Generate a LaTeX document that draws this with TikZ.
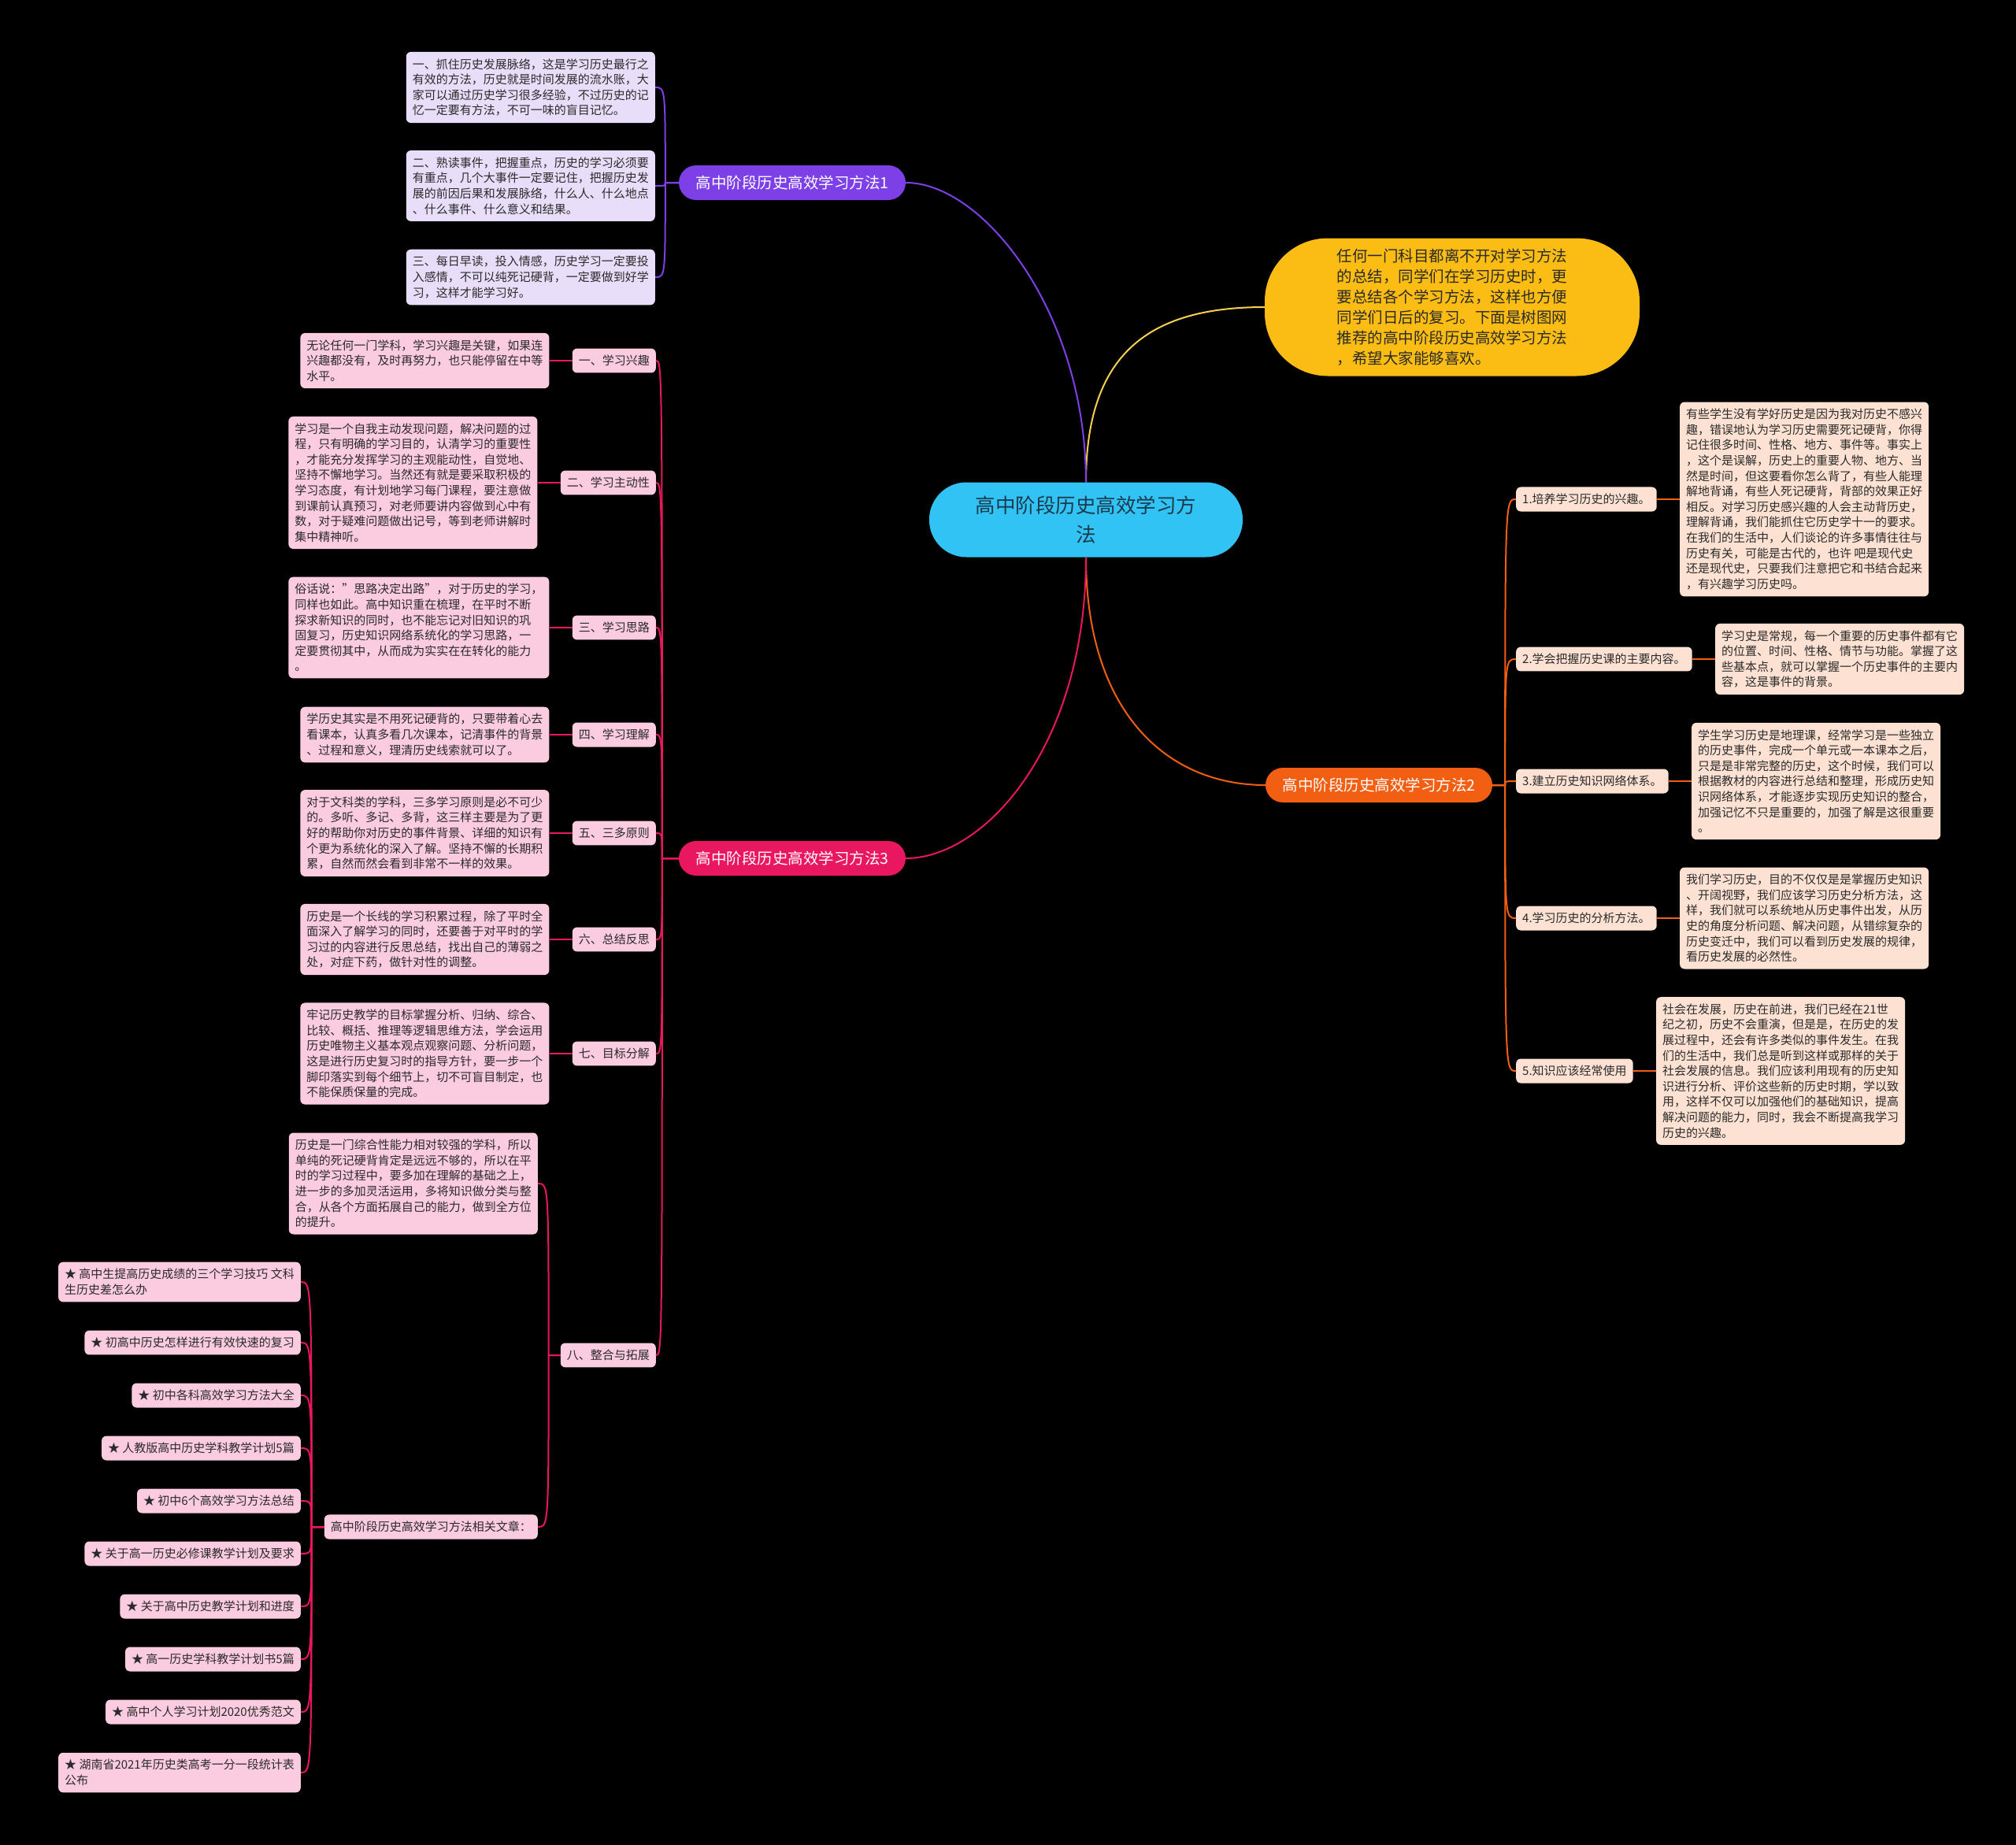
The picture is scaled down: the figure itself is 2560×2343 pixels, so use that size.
\documentclass[tikz,border=0pt]{standalone}
\usepackage{fontspec}
\setmainfont{Noto Sans CJK SC}
\usetikzlibrary{positioning}
\definecolor{rootcyan}{HTML}{31C3F3}
\definecolor{rootink}{HTML}{1C3A4E}
\definecolor{introyel}{HTML}{FBBC14}
\definecolor{introline}{HTML}{F6D050}
\definecolor{mpurple}{HTML}{7D40E6}
\definecolor{morange}{HTML}{F25E12}
\definecolor{mred}{HTML}{E8175F}
\definecolor{lavfill}{HTML}{E9DEF9}
\definecolor{peachfill}{HTML}{FDE2D3}
\definecolor{pinkfill}{HTML}{FBCBE0}
\definecolor{inkdark}{HTML}{2A2A2A}

\begin{document}
\begin{tikzpicture}[
    x=1pt, y=-1pt,
    every node/.style={font=\fontsize{15}{19.6}\selectfont},
    leaf/.style={rectangle, rounded corners=6pt, inner xsep=8pt, inner ysep=8.5pt,
                 align=left, text=inkdark},
    leaf1/.style={leaf, fill=lavfill},
    leaf2/.style={leaf, fill=peachfill},
    leaf3/.style={leaf, fill=pinkfill},
    mbranch/.style={rectangle, rounded corners=22pt, minimum width=288pt,
                    minimum height=44pt, text=white, font=\fontsize{19.5}{24}\selectfont},
    link/.style={line width=2pt},
]
% canvas
\fill[black] (0,0) rectangle (2560,2343);

% root and intro bubble
\node[fill=rootcyan, rounded corners=47pt, minimum width=398pt, minimum height=95pt,
      align=center, text=rootink, font=\fontsize{25.5}{37}\selectfont]
    (root) at (1379,660) {高中阶段历史高效学习方\\法};
\node[fill=introyel, rounded corners=80pt, minimum width=476pt, minimum height=175pt,
      align=left, text=inkdark, font=\fontsize{19.5}{26}\selectfont]
    (intro) at (1844,390)
    {任何一门科目都离不开对学习方法\\的总结，同学们在学习历史时，更\\要总结各个学习方法，这样也方便\\同学们日后的复习。下面是树图网\\推荐的高中阶段历史高效学习方法\\，希望大家能够喜欢。};

% three main branches
\node[mbranch, fill=mpurple] (m1) at (1006,232) {高中阶段历史高效学习方法1};
\node[mbranch, fill=morange] (m2) at (1751,997) {高中阶段历史高效学习方法2};
\node[mbranch, fill=mred] (m3) at (1006,1090) {高中阶段历史高效学习方法3};

\draw[link, introline] (root.north) .. controls +(0,-164) and +(-146,0) .. (intro.west);
\draw[link, mpurple] (root.north) .. controls +(0,-214) and +(99,0) .. (m1.east);
\draw[link, morange] (root.south) .. controls +(0,193) and +(-128,0) .. (m2.west);
\draw[link, mred] (root.south) .. controls +(0,240) and +(100,0) .. (m3.east);

% branch 1
\node[leaf1, anchor=east] (m1a) at (832,111)
    {一、抓住历史发展脉络，这是学习历史最行之\\有效的方法，历史就是时间发展的流水账，大\\家可以通过历史学习很多经验，不过历史的记\\忆一定要有方法，不可一味的盲目记忆。};
\node[leaf1, anchor=east] (m1b) at (832,236)
    {二、熟读事件，把握重点，历史的学习必须要\\有重点，几个大事件一定要记住，把握历史发\\展的前因后果和发展脉络，什么人、什么地点\\、什么事件、什么意义和结果。};
\node[leaf1, anchor=east] (m1c) at (832,352)
    {三、每日早读，投入情感，历史学习一定要投\\入感情，不可以纯死记硬背，一定要做到好学\\习，这样才能学习好。};
\coordinate (m1j) at ([xshift=-17pt]m1.west);
\foreach \c in {m1a,m1b,m1c}
    \draw[link, mpurple] (m1.west) -- (m1j) .. controls (m1j |- \c.east) .. (\c.east);

% branch 2
\node[leaf2, anchor=west] (m2l1) at (1925,634) {1.培养学习历史的兴趣。};
\node[leaf2, right=29pt of m2l1] (m2d1)
    {有些学生没有学好历史是因为我对历史不感兴\\趣，错误地认为学习历史需要死记硬背，你得\\记住很多时间、性格、地方、事件等。事实上\\，这个是误解，历史上的重要人物、地方、当\\然是时间，但这要看你怎么背了，有些人能理\\解地背诵，有些人死记硬背，背部的效果正好\\相反。对学习历史感兴趣的人会主动背历史，\\理解背诵，我们能抓住它历史学十一的要求。\\在我们的生活中，人们谈论的许多事情往往与\\历史有关，可能是古代的，也许 吧是现代史\\还是现代史，只要我们注意把它和书结合起来\\，有兴趣学习历史吗。};
\node[leaf2, anchor=west] (m2l2) at (1925,837) {2.学会把握历史课的主要内容。};
\node[leaf2, right=29pt of m2l2] (m2d2)
    {学习史是常规，每一个重要的历史事件都有它\\的位置、时间、性格、情节与功能。掌握了这\\些基本点，就可以掌握一个历史事件的主要内\\容，这是事件的背景。};
\node[leaf2, anchor=west] (m2l3) at (1925,992) {3.建立历史知识网络体系。};
\node[leaf2, right=29pt of m2l3] (m2d3)
    {学生学习历史是地理课，经常学习是一些独立\\的历史事件，完成一个单元或一本课本之后，\\只是是非常完整的历史，这个时候，我们可以\\根据教材的内容进行总结和整理，形成历史知\\识网络体系，才能逐步实现历史知识的整合，\\加强记忆不只是重要的，加强了解是这很重要\\。};
\node[leaf2, anchor=west] (m2l4) at (1925,1166) {4.学习历史的分析方法。};
\node[leaf2, right=29pt of m2l4] (m2d4)
    {我们学习历史，目的不仅仅是是掌握历史知识\\、开阔视野，我们应该学习历史分析方法，这\\样，我们就可以系统地从历史事件出发，从历\\史的角度分析问题、解决问题，从错综复杂的\\历史变迁中，我们可以看到历史发展的规律，\\看历史发展的必然性。};
\node[leaf2, anchor=west] (m2l5) at (1925,1360) {5.知识应该经常使用};
\node[leaf2, right=29pt of m2l5] (m2d5)
    {社会在发展，历史在前进，我们已经在21世\\纪之初，历史不会重演，但是是，在历史的发\\展过程中，还会有许多类似的事件发生。在我\\们的生活中，我们总是听到这样或那样的关于\\社会发展的信息。我们应该利用现有的历史知\\识进行分析、评价这些新的历史时期，学以致\\用，这样不仅可以加强他们的基础知识，提高\\解决问题的能力，同时，我会不断提高我学习\\历史的兴趣。};
\coordinate (m2j) at ([xshift=16pt]m2.east);
\foreach \i in {1,...,5} {
    \draw[link, morange] (m2.east) -- (m2j) .. controls (m2j |- m2l\i.west) .. (m2l\i.west);
    \draw[link, morange] (m2l\i.east) -- (m2d\i.west);
}

% branch 3
\node[leaf3, anchor=east] (m3l1) at (833,458) {一、学习兴趣};
\node[leaf3, left=29pt of m3l1] (m3d1)
    {无论任何一门学科，学习兴趣是关键，如果连\\兴趣都没有，及时再努力，也只能停留在中等\\水平。};
\node[leaf3, anchor=east] (m3l2) at (833,613) {二、学习主动性};
\node[leaf3, left=29pt of m3l2] (m3d2)
    {学习是一个自我主动发现问题，解决问题的过\\程，只有明确的学习目的，认清学习的重要性\\，才能充分发挥学习的主观能动性，自觉地、\\坚持不懈地学习。当然还有就是要采取积极的\\学习态度，有计划地学习每门课程，要注意做\\到课前认真预习，对老师要讲内容做到心中有\\数，对于疑难问题做出记号，等到老师讲解时\\集中精神听。};
\node[leaf3, anchor=east] (m3l3) at (833,797) {三、学习思路};
\node[leaf3, left=29pt of m3l3] (m3d3)
    {俗话说：\char34 思路决定出路\char34，对于历史的学习，\\同样也如此。高中知识重在梳理，在平时不断\\探求新知识的同时，也不能忘记对旧知识的巩\\固复习，历史知识网络系统化的学习思路，一\\定要贯彻其中，从而成为实实在在转化的能力\\。};
\node[leaf3, anchor=east] (m3l4) at (833,933) {四、学习理解};
\node[leaf3, left=29pt of m3l4] (m3d4)
    {学历史其实是不用死记硬背的，只要带着心去\\看课本，认真多看几次课本，记清事件的背景\\、过程和意义，理清历史线索就可以了。};
\node[leaf3, anchor=east] (m3l5) at (833,1058) {五、三多原则};
\node[leaf3, left=29pt of m3l5] (m3d5)
    {对于文科类的学科，三多学习原则是必不可少\\的。多听、多记、多背，这三样主要是为了更\\好的帮助你对历史的事件背景、详细的知识有\\个更为系统化的深入了解。坚持不懈的长期积\\累，自然而然会看到非常不一样的效果。};
\node[leaf3, anchor=east] (m3l6) at (833,1193) {六、总结反思};
\node[leaf3, left=29pt of m3l6] (m3d6)
    {历史是一个长线的学习积累过程，除了平时全\\面深入了解学习的同时，还要善于对平时的学\\习过的内容进行反思总结，找出自己的薄弱之\\处，对症下药，做针对性的调整。};
\node[leaf3, anchor=east] (m3l7) at (833,1338) {七、目标分解};
\node[leaf3, left=29pt of m3l7] (m3d7)
    {牢记历史教学的目标掌握分析、归纳、综合、\\比较、概括、推理等逻辑思维方法，学会运用\\历史唯物主义基本观点观察问题、分析问题，\\这是进行历史复习时的指导方针，要一步一个\\脚印落实到每个细节上，切不可盲目制定，也\\不能保质保量的完成。};
\node[leaf3, anchor=east] (m3l8) at (833,1721) {八、整合与拓展};
\node[leaf3, anchor=east] (m3d8) at (683,1503)
    {历史是一门综合性能力相对较强的学科，所以\\单纯的死记硬背肯定是远远不够的，所以在平\\时的学习过程中，要多加在理解的基础之上，\\进一步的多加灵活运用，多将知识做分类与整\\合，从各个方面拓展自己的能力，做到全方位\\的提升。};
\node[leaf3, anchor=east] (rel) at (683,1939) {高中阶段历史高效学习方法相关文章：};
\coordinate (m3j) at ([xshift=-21pt]m3.west);
\foreach \i in {1,...,8}
    \draw[link, mred] (m3.west) -- (m3j) .. controls (m3j |- m3l\i.east) .. (m3l\i.east);
\foreach \i in {1,...,7}
    \draw[link, mred] (m3l\i.west) -- (m3d\i.east);
\coordinate (m8j) at ([xshift=-15pt]m3l8.west);
\foreach \c in {m3d8,rel}
    \draw[link, mred] (m3l8.west) -- (m8j) .. controls (m8j |- \c.east) .. (\c.east);

% related articles
\node[leaf3, anchor=east] (s1) at (382,1628) {★ 高中生提高历史成绩的三个学习技巧 文科\\生历史差怎么办};
\node[leaf3, anchor=east] (s2) at (382,1705) {★ 初高中历史怎样进行有效快速的复习};
\node[leaf3, anchor=east] (s3) at (382,1772) {★ 初中各科高效学习方法大全};
\node[leaf3, anchor=east] (s4) at (382,1839) {★ 人教版高中历史学科教学计划5篇};
\node[leaf3, anchor=east] (s5) at (382,1906) {★ 初中6个高效学习方法总结};
\node[leaf3, anchor=east] (s6) at (382,1973) {★ 关于高一历史必修课教学计划及要求};
\node[leaf3, anchor=east] (s7) at (382,2040) {★ 关于高中历史教学计划和进度};
\node[leaf3, anchor=east] (s8) at (382,2107) {★ 高一历史学科教学计划书5篇};
\node[leaf3, anchor=east] (s9) at (382,2174) {★ 高中个人学习计划2020优秀范文};
\node[leaf3, anchor=east] (s10) at (382,2251) {★ 湖南省2021年历史类高考一分一段统计表\\公布};
\coordinate (relj) at ([xshift=-16pt]rel.west);
\foreach \i in {1,...,10}
    \draw[link, mred] (rel.west) -- (relj) .. controls (relj |- s\i.east) .. (s\i.east);

\end{tikzpicture}
\end{document}
